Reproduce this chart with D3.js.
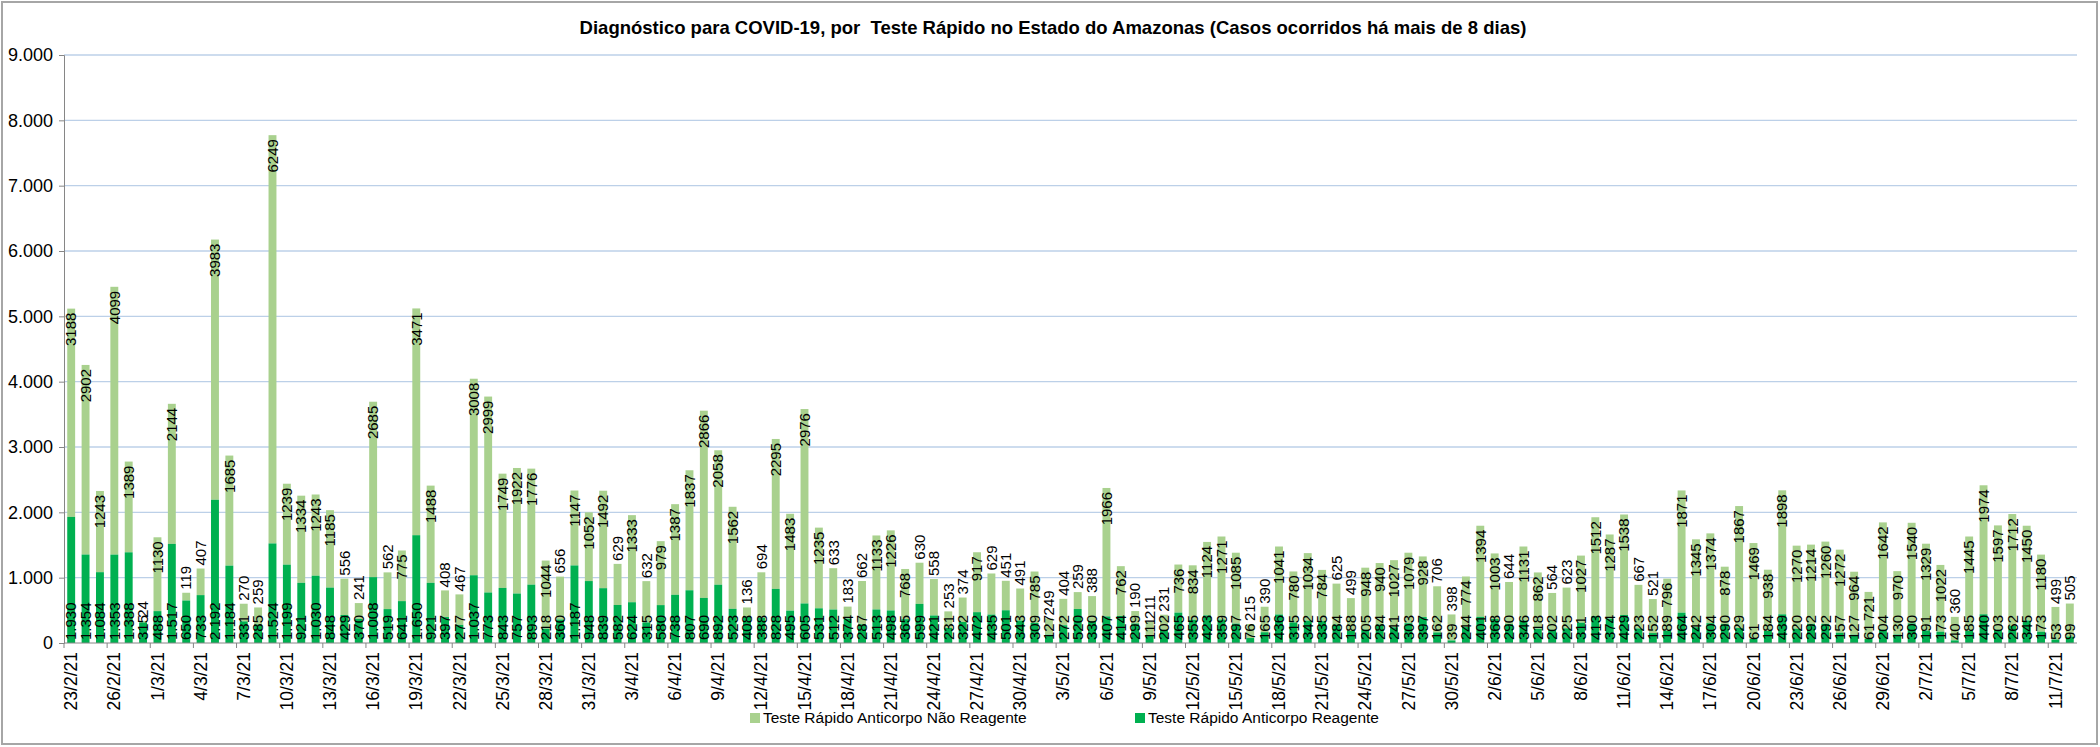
<!DOCTYPE html>
<html>
<head>
<meta charset="utf-8">
<script src="https://cdn.jsdelivr.net/npm/d3@7"></script>
<style>
  body { margin: 0; background: #fff; }
  text { font-family: "Liberation Sans", Arial, sans-serif; fill: #000; }
</style>
</head>
<body>
<svg id="chart" width="2100" height="747"></svg>
<script>
// categories: one per day, 23/2/21 .. 12/7/21
const firstDay = new Date(2021, 1, 23)
const afterLastDay = new Date(2021, 6, 13)
const dayFormat = d3.timeFormat("%-d/%-m/%y")
const categories = d3.timeDays(firstDay, afterLastDay).map(dayFormat)

// Teste Rápido Anticorpo Reagente
const reagente = [
  1930, 1354, 1084, 1353, 1388, 315,
  488, 1517, 650, 733, 2192, 1184, 331, 285, 1524, 1199,
  921, 1030, 848, 429, 370, 1008, 519, 641, 1650, 921,
  397, 277, 1037, 773, 843, 757, 893, 218, 360, 1187, 948,
  839, 582, 624, 315, 580, 738, 807, 690, 892, 523,
  408, 388, 828, 495, 605, 531, 512, 374, 287, 513,
  498, 365, 599, 421, 231, 322, 472, 435, 501, 343,
  309, 127, 272, 520, 330, 407, 414, 299, 111, 202,
  465, 355, 423, 359, 297, 76, 165, 436, 315, 342,
  335, 284, 188, 205, 284, 241, 303, 397, 162, 39, 244,
  401, 368, 290, 346, 218, 202, 225, 311, 413, 374,
  429, 223, 152, 189, 464, 242, 304, 290, 229, 61,
  184, 439, 220, 292, 292, 157, 127, 61, 204, 130,
  300, 191, 173, 40, 185, 440, 203, 262, 345, 173, 53, 99
]

// Teste Rápido Anticorpo Não Reagente
const naoReagente = [
  3188, 2902, 1243, 4099, 1389, 24,
  1130, 2144, 119, 407, 3983, 1685, 270, 259, 6249, 1239,
  1334, 1243, 1185, 556, 241, 2685, 562, 775, 3471, 1488,
  408, 467, 3008, 2999, 1749, 1922, 1776, 1044, 656, 1147, 1052,
  1492, 629, 1333, 632, 979, 1387, 1837, 2866, 2058, 1562,
  136, 694, 2295, 1483, 2976, 1235, 633, 183, 662, 1133,
  1226, 768, 630, 558, 253, 374, 917, 629, 451, 491,
  785, 249, 404, 259, 388, 1966, 762, 190, 211, 231,
  736, 834, 1124, 1271, 1085, 215, 390, 1041, 780, 1034,
  784, 625, 499, 948, 940, 1027, 1079, 928, 706, 398, 774,
  1394, 1003, 644, 1131, 862, 564, 623, 1027, 1512, 1287,
  1538, 667, 521, 796, 1871, 1345, 1374, 878, 1867, 1469,
  938, 1898, 1270, 1214, 1260, 1272, 964, 721, 1642, 970,
  1540, 1329, 1022, 360, 1445, 1974, 1597, 1712, 1450, 1180, 499, 505
]

const yTicks = [0, 1000, 2000, 3000, 4000, 5000, 6000, 7000, 8000, 9000]
const xTickLabels = categories.filter((d, i) => i % 3 == 0)
const seriesNames = ["Teste Rápido Anticorpo Não Reagente", "Teste Rápido Anticorpo Reagente"]
const title = "Diagnóstico para COVID-19, por  Teste Rápido no Estado do Amazonas (Casos ocorridos há mais de 8 dias)"

const lightGreen = "#A9D18E"
const darkGreen = "#00B050"
const gridColor = "#BCD0E8"
const axisColor = "#868686"

const ptBR = d3.formatLocale({ decimal: ",", thousands: ".", grouping: [3], currency: ["R$", ""] })
const fmtDot = ptBR.format(",d")

const rows = categories.map((c, i) => ({ day: c, r: reagente[i], nr: naoReagente[i] }))

const svg = d3.select("#chart")

// outer chart border
svg.append("rect")
   .attr("x", 2).attr("y", 2)
   .attr("width", 2095).attr("height", 742)
   .attr("fill", "#fff")
   .attr("stroke", "#A6A6A6")
   .attr("stroke-width", 2)

const plotLeft = 64, plotRight = 2077, plotTop = 55, plotBottom = 643

let x = d3.scaleBand()
          .domain(categories)
          .range([plotLeft, plotRight])
          .paddingInner(0.45)
          .paddingOuter(0.225)
let y = d3.scaleLinear()
          .domain([0, 9000])
          .range([plotBottom, plotTop])

// gridlines
svg.append("g")
   .selectAll("line")
   .data(yTicks.filter(d => d > 0))
   .join("line")
   .attr("x1", plotLeft).attr("x2", plotRight)
   .attr("y1", d => y(d)).attr("y2", d => y(d))
   .style("stroke", gridColor)
   .style("stroke-width", 1.3)

// y axis
let yAxis = svg.append("g")
   .attr("transform", "translate(" + plotLeft + ",0)")
   .call(d3.axisLeft(y).tickValues(yTicks).tickSize(5).tickPadding(6)
           .tickFormat(d => d == 0 ? "0" : fmtDot(d)))
yAxis.select(".domain").attr("stroke", axisColor)
yAxis.selectAll(".tick line").attr("stroke", axisColor)
yAxis.selectAll("text").style("font-size", "18px").attr("fill", "#000")

// bars
let barG = svg.append("g")
barG.selectAll("rect.nr")
    .data(rows)
    .join("rect")
    .classed("nr", true)
    .attr("x", d => x(d.day))
    .attr("width", x.bandwidth())
    .attr("y", d => y(d.r + d.nr))
    .attr("height", d => y(d.r) - y(d.r + d.nr))
    .attr("fill", lightGreen)
barG.selectAll("rect.r")
    .data(rows)
    .join("rect")
    .classed("r", true)
    .attr("x", d => x(d.day))
    .attr("width", x.bandwidth())
    .attr("y", d => y(d.r))
    .attr("height", d => y(0) - y(d.r))
    .attr("fill", darkGreen)

// x axis line + ticks every 3 days
const step = x.step()
const slotLeft = d => x(d) - (step - x.bandwidth()) / 2
svg.append("line")
   .attr("x1", plotLeft).attr("x2", plotRight)
   .attr("y1", plotBottom).attr("y2", plotBottom)
   .style("stroke", axisColor)
svg.append("g")
   .selectAll("line")
   .data(xTickLabels)
   .join("line")
   .attr("x1", d => slotLeft(d)).attr("x2", d => slotLeft(d))
   .attr("y1", plotBottom).attr("y2", plotBottom + 5)
   .style("stroke", axisColor)
svg.append("g")
   .selectAll("text")
   .data(xTickLabels)
   .join("text")
   .attr("transform", d => "translate(" + (x(d) + x.bandwidth() / 2) + "," + (plotBottom + 9) + ") rotate(-90)")
   .attr("text-anchor", "end")
   .attr("dy", "0.35em")
   .style("font-size", "17.5px")
   .text(d => d)

// data labels
const labelSize = 15
const digitW = labelSize * 0.556
let labelG = svg.append("g").style("font-size", labelSize + "px")
labelG.selectAll("text.r")
    .data(rows)
    .join("text")
    .classed("r", true)
    .attr("transform", d => "translate(" + (x(d.day) + x.bandwidth() / 2) + "," + (plotBottom - 3) + ") rotate(-90)")
    .attr("text-anchor", "start")
    .attr("dy", "0.35em")
    .text(d => fmtDot(d.r))
// non-reagent label sits inside the top of its segment, or just above the bar when it does not fit
labelG.selectAll("text.nr")
    .data(rows)
    .join("text")
    .classed("nr", true)
    .each(function(d) {
        let seg = y(d.r) - y(d.r + d.nr)
        let len = String(d.nr).length * digitW
        let inside = seg >= len + 22
        let yy = inside ? y(d.r + d.nr) + 4 : y(d.r + d.nr) - 3
        d3.select(this)
          .attr("transform", "translate(" + (x(d.day) + x.bandwidth() / 2) + "," + yy + ") rotate(-90)")
          .attr("text-anchor", inside ? "end" : "start")
    })
    .attr("dy", "0.35em")
    .text(d => d.nr)

// title
svg.append("text")
   .attr("x", 1053).attr("y", 34)
   .attr("text-anchor", "middle")
   .style("font-size", "18.5px")
   .style("font-weight", "bold")
   .style("white-space", "pre")
   .text(title)

// legend
const legendX = [750, 1135]
const legendColors = [lightGreen, darkGreen]
let legend = svg.append("g")
                .selectAll("g")
                .data(seriesNames)
                .join("g")
                .attr("transform", (d, i) => "translate(" + legendX[i] + ",718)")
legend.append("rect")
      .attr("x", 0).attr("y", -5)
      .attr("width", 10).attr("height", 10)
      .attr("fill", (d, i) => legendColors[i])
legend.append("text")
      .attr("x", 13).attr("dy", "0.35em")
      .style("font-size", "15.5px")
      .text(d => d)
</script>
</body>
</html>
